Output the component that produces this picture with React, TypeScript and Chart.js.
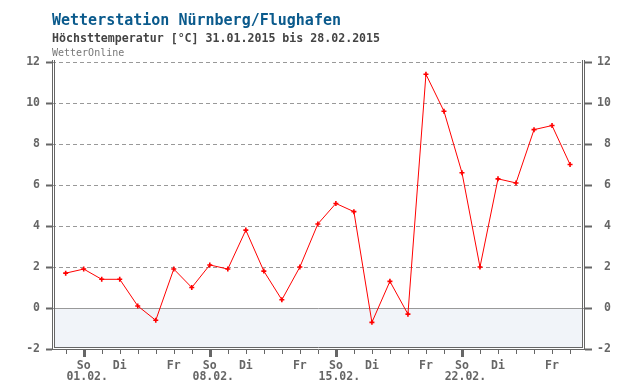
import { useEffect, useRef } from "react";
import { Chart, registerables } from "chart.js";

Chart.register(...registerables);

// ---- data ----
const titleText = "Wetterstation Nürnberg/Flughafen";
const subtitleText = "Höchsttemperatur [°C] 31.01.2015 bis 28.02.2015";
const sourceText = "WetterOnline";

const dates = [
  "31.01.", "01.02.", "02.02.", "03.02.", "04.02.", "05.02.", "06.02.", "07.02.",
  "08.02.", "09.02.", "10.02.", "11.02.", "12.02.", "13.02.", "14.02.", "15.02.",
  "16.02.", "17.02.", "18.02.", "19.02.", "20.02.", "21.02.", "22.02.", "23.02.",
  "24.02.", "25.02.", "26.02.", "27.02.", "28.02.",
];
const weekdays = [
  "Sa", "So", "Mo", "Di", "Mi", "Do", "Fr", "Sa",
  "So", "Mo", "Di", "Mi", "Do", "Fr", "Sa", "So",
  "Mo", "Di", "Mi", "Do", "Fr", "Sa", "So", "Mo",
  "Di", "Mi", "Do", "Fr", "Sa",
];
const labeledWeekdays = ["So", "Di", "Fr"];
const tempMax = [
  1.7, 1.9, 1.4, 1.4, 0.1, -0.6, 1.9, 1.0,
  2.1, 1.9, 3.8, 1.8, 0.4, 2.0, 4.1, 5.1,
  4.7, -0.7, 1.3, -0.3, 11.4, 9.6, 6.6, 2.0,
  6.3, 6.1, 8.7, 8.9, 7.0,
];
const yMin = -2;
const yMax = 12;
const yStep = 2;

const FONT = "'DejaVu Sans Mono', 'Liberation Mono', monospace";
const AXIS_GREY = "#666666";

const decorPlugin = {
  id: "decor",
  beforeDraw(chart: any) {
    const ctx = chart.ctx;
    const ca = chart.chartArea;
    const ys = chart.scales.y;
    ctx.save();
    // light fill below zero
    const y0 = Math.round(ys.getPixelForValue(0));
    ctx.fillStyle = "#f1f4f9";
    ctx.fillRect(ca.left + 3, y0, ca.right - ca.left - 6, ca.bottom - 2 - y0);
    // header texts
    ctx.textAlign = "left";
    ctx.textBaseline = "alphabetic";
    ctx.fillStyle = "#0a5a8c";
    ctx.font = `bold 15px ${FONT}`;
    ctx.fillText(titleText, 52, 25);
    ctx.fillStyle = "#444444";
    ctx.font = `bold 11.6px ${FONT}`;
    ctx.fillText(subtitleText, 52, 42);
    ctx.fillStyle = "#777777";
    ctx.font = `10px ${FONT}`;
    ctx.fillText(sourceText, 52, 56);
    ctx.restore();
  },
  afterDraw(chart: any) {
    const ctx = chart.ctx;
    const ca = chart.chartArea;
    const xs = chart.scales.x;
    ctx.save();
    ctx.strokeStyle = AXIS_GREY;
    ctx.lineWidth = 1;
    const top = ca.top - 2;
    const bOuter = ca.bottom + 0.5;
    const bInner = ca.bottom - 1.5;
    ctx.beginPath();
    // left double
    ctx.moveTo(ca.left + 0.5, top);
    ctx.lineTo(ca.left + 0.5, bOuter);
    ctx.moveTo(ca.left + 2.5, top);
    ctx.lineTo(ca.left + 2.5, bInner);
    // right double
    ctx.moveTo(ca.right - 0.5, top);
    ctx.lineTo(ca.right - 0.5, bOuter);
    ctx.moveTo(ca.right - 2.5, top);
    ctx.lineTo(ca.right - 2.5, bInner);
    // bottom double
    ctx.moveTo(ca.left, bOuter);
    ctx.lineTo(ca.right, bOuter);
    ctx.moveTo(ca.left + 2, bInner);
    ctx.lineTo(ca.right - 2, bInner);
    ctx.stroke();
    // x tick marks
    ctx.fillStyle = AXIS_GREY;
    for (let i = 0; i < dates.length; i++) {
      const px = Math.round(xs.getPixelForValue(i));
      if (weekdays[i] === "So") {
        ctx.fillRect(px - 1, ca.bottom + 1, 3, 7);
      } else {
        ctx.fillRect(px, ca.bottom + 1, 1, 4);
      }
    }
    ctx.restore();
  },
};

export default function App() {
  const ref = useRef<HTMLCanvasElement | null>(null);

  useEffect(() => {
    if (!ref.current) return;
    const chart = new Chart(ref.current, {
      type: "line",
      data: {
        datasets: [
          {
            data: tempMax.map((v, i) => ({ x: i, y: v })),
            borderColor: "#ff0000",
            backgroundColor: "#ff0000",
            borderWidth: 1,
            pointStyle: "cross",
            pointRadius: 2.5,
            pointBorderWidth: 1.6,
            pointBorderColor: "#ff0000",
            tension: 0,
            fill: false,
          },
        ],
      },
      options: {
        animation: false,
        responsive: false,
        devicePixelRatio: 1,
        layout: { padding: { top: 62, left: 0, right: 0, bottom: 0 } },
        plugins: {
          legend: { display: false },
          tooltip: { enabled: false },
          title: { display: false },
        },
        scales: {
          x: {
            type: "linear",
            min: -0.76,
            max: 28.83,
            afterFit: (s: any) => {
              s.height = 41;
            },
            afterBuildTicks: (s: any) => {
              s.ticks = dates.map((_, i) => ({ value: i }));
            },
            grid: { display: false, drawTicks: false },
            border: { display: false },
            ticks: {
              autoSkip: false,
              maxRotation: 0,
              minRotation: 0,
              padding: 12,
              color: AXIS_GREY,
              font: { family: FONT, size: 11.5, weight: "bold", lineHeight: "11px" },
              callback: (v: any) => {
                const i = Math.round(Number(v));
                const wd = weekdays[i];
                if (!wd || !labeledWeekdays.includes(wd)) return "";
                if (wd === "So") return [wd, " " + dates[i]];
                return wd;
              },
            },
          },
          y: {
            type: "linear",
            position: "left",
            min: yMin,
            max: yMax,
            afterFit: (s: any) => {
              s.width = 52;
            },
            grid: {
              color: (c: any) => (c.tick && c.tick.value === yMin ? "rgba(0,0,0,0)" : "#999999"),
              lineWidth: 1,
              drawTicks: true,
              tickLength: 6,
              tickWidth: 2,
              tickColor: AXIS_GREY,
              tickBorderDash: [],
            },
            border: {
              display: false,
              dash: (c: any) => (c.tick && c.tick.value === 0 ? [] : [4, 3]),
            },
            ticks: {
              stepSize: yStep,
              padding: 6,
              color: AXIS_GREY,
              font: { family: FONT, size: 11.5, weight: "bold" },
              callback: (v: any) => String(v),
            },
          },
          y2: {
            type: "linear",
            position: "right",
            min: yMin,
            max: yMax,
            afterFit: (s: any) => {
              s.width = 55;
            },
            grid: {
              drawOnChartArea: false,
              drawTicks: true,
              tickLength: 7,
              tickWidth: 2,
              tickColor: AXIS_GREY,
              tickBorderDash: [],
            },
            border: { display: false },
            ticks: {
              stepSize: yStep,
              padding: 5,
              color: AXIS_GREY,
              font: { family: FONT, size: 11.5, weight: "bold" },
              callback: (v: any) => String(v).padStart(2, " "),
            },
          },
        },
      },
      plugins: [decorPlugin],
    });
    return () => chart.destroy();
  }, []);

  return (
    <div style={{ position: "absolute", left: 0, top: 0, width: 640, height: 390, background: "#ffffff" }}>
      <canvas ref={ref} width={640} height={390} style={{ display: "block", width: 640, height: 390 }} />
    </div>
  );
}
